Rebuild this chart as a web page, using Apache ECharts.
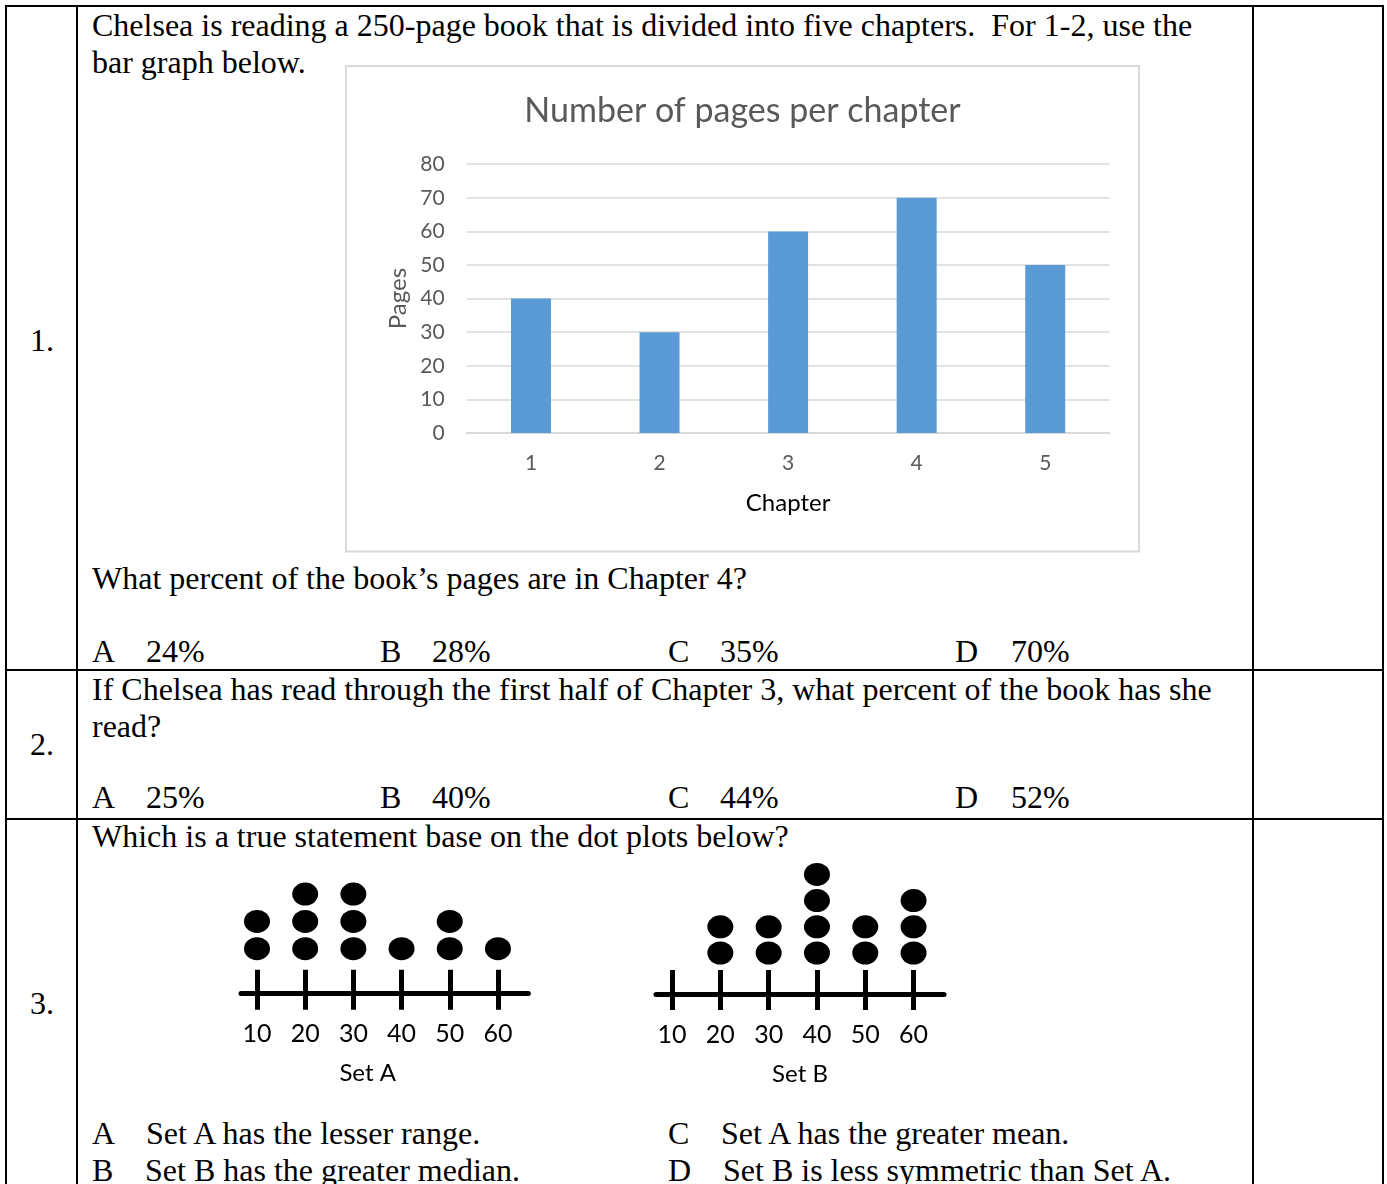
<!DOCTYPE html>
<html>
<head>
<meta charset="utf-8">
<title>Worksheet: pages per chapter and dot plots</title>
<script src="https://cdn.jsdelivr.net/npm/echarts@6/dist/echarts.min.js"></script>
<style>
  html, body { margin: 0; padding: 0; background: #fff; }
  #page { position: relative; width: 1387px; height: 1184px; overflow: hidden; background: #fff; }
  .rule { position: absolute; background: #000; }
  .t {
    position: absolute;
    font-family: 'Liberation Serif', 'Times New Roman', serif;
    font-size: 32px;
    line-height: 37px;
    color: #000;
    white-space: pre;
  }
  #chart { position: absolute; left: 0; top: 0; width: 1387px; height: 1184px; }
</style>
</head>
<body>
<div id="page">
  <!-- table rules -->
  <div class="rule" style="left:5px;top:5px;width:1379px;height:2px"></div>
  <div class="rule" style="left:5px;top:5px;width:2px;height:1179px"></div>
  <div class="rule" style="left:76px;top:5px;width:2px;height:1179px"></div>
  <div class="rule" style="left:1252px;top:5px;width:2px;height:1179px"></div>
  <div class="rule" style="left:1382px;top:5px;width:2px;height:1179px"></div>
  <div class="rule" style="left:5px;top:669px;width:1379px;height:2px"></div>
  <div class="rule" style="left:5px;top:818px;width:1379px;height:2px"></div>

  <!-- question numbers -->
  <div class="t" style="left:30px;top:322px">1.</div>
  <div class="t" style="left:30px;top:726px">2.</div>
  <div class="t" style="left:30px;top:985px">3.</div>

  <!-- question 1 -->
  <div class="t" style="left:92px;top:7px">Chelsea is reading a 250-page book that is divided into five chapters.  For 1-2, use the</div>
  <div class="t" style="left:92px;top:44px">bar graph below.</div>
  <div class="t" style="left:92px;top:560px">What percent of the book’s pages are in Chapter 4?</div>
  <div class="t" style="left:92px;top:633px">A</div><div class="t" style="left:146px;top:633px">24%</div>
  <div class="t" style="left:380px;top:633px">B</div><div class="t" style="left:432px;top:633px">28%</div>
  <div class="t" style="left:668px;top:633px">C</div><div class="t" style="left:720px;top:633px">35%</div>
  <div class="t" style="left:955px;top:633px">D</div><div class="t" style="left:1011px;top:633px">70%</div>

  <!-- question 2 -->
  <div class="t" style="left:92px;top:671px">If Chelsea has read through the first half of Chapter 3, what percent of the book has she</div>
  <div class="t" style="left:92px;top:708px">read?</div>
  <div class="t" style="left:92px;top:779px">A</div><div class="t" style="left:146px;top:779px">25%</div>
  <div class="t" style="left:380px;top:779px">B</div><div class="t" style="left:432px;top:779px">40%</div>
  <div class="t" style="left:668px;top:779px">C</div><div class="t" style="left:720px;top:779px">44%</div>
  <div class="t" style="left:955px;top:779px">D</div><div class="t" style="left:1011px;top:779px">52%</div>

  <!-- question 3 -->
  <div class="t" style="left:92px;top:818px">Which is a true statement base on the dot plots below?</div>
  <div class="t" style="left:92px;top:1115px">A</div><div class="t" style="left:146px;top:1115px">Set A has the lesser range.</div>
  <div class="t" style="left:668px;top:1115px">C</div><div class="t" style="left:721px;top:1115px">Set A has the greater mean.</div>
  <div class="t" style="left:92px;top:1152px">B</div><div class="t" style="left:145px;top:1152px">Set B has the greater median.</div>
  <div class="t" style="left:668px;top:1152px">D</div><div class="t" style="left:723px;top:1152px">Set B is less symmetric than Set A.</div>

  <div id="chart"></div>
</div>

<script>
// Bar chart data: pages in each chapter
const chapters = ['1', '2', '3', '4', '5'];
const pagesPerChapter = [40, 30, 60, 70, 50];

// Dot plot data: every observation of each set
const dotTicks = [10, 20, 30, 40, 50, 60];
const setA = [10, 10, 20, 20, 20, 30, 30, 30, 40, 50, 50, 60];
const setB = [20, 20, 30, 30, 40, 40, 40, 40, 50, 50, 60, 60, 60];

// Turn raw observations into [value, stackLevel] points
function stackDots(values) {
  const seen = {};
  return values.map(function (v) {
    seen[v] = (seen[v] || 0) + 1;
    return [v, seen[v]];
  });
}

const GRAY = '#595959';
const SANS = 'Lato';

// Number line for one dot plot: outer axis carries line, lower ticks and labels,
// inner axis carries the upper half of each tick.
function numberLineAxes(gridIndex, name, namePadding) {
  const common = {
    type: 'value', gridIndex: gridIndex, position: 'bottom',
    min: 6.68, max: 66.3, splitLine: { show: false }
  };
  return [
    Object.assign({}, common, {
      axisLine: { show: true, onZero: false, lineStyle: { color: '#000', width: 5 } },
      axisTick: { show: true, customValues: dotTicks, length: 16, lineStyle: { color: '#000', width: 5 } },
      axisLabel: { show: true, customValues: dotTicks, margin: 28, color: '#000', fontFamily: SANS, fontSize: 25 },
      name: name, nameLocation: 'middle', nameGap: 68,
      nameTextStyle: { color: '#000', fontFamily: SANS, fontSize: 24, padding: namePadding }
    }),
    Object.assign({}, common, {
      axisLine: { show: false, onZero: false },
      axisTick: { show: true, inside: true, customValues: dotTicks, length: 24, lineStyle: { color: '#000', width: 5 } },
      axisLabel: { show: false }
    })
  ];
}

const chart = echarts.init(document.getElementById('chart'), null, { renderer: 'canvas' });

const axesA = numberLineAxes(1, 'Set A', [0, 34, 0, 0]);
const axesB = numberLineAxes(2, 'Set B', [0, 0, 0, 0]);

const dotStyle = { color: '#000', opacity: 1 };

chart.setOption({
  animation: false,
  backgroundColor: 'transparent',
  title: {
    text: 'Number of pages per chapter',
    left: 742.5, top: 94, padding: 0, textAlign: 'center',
    textStyle: { color: GRAY, fontFamily: SANS, fontSize: 34, fontWeight: 'normal' }
  },
  graphic: [{
    type: 'rect', silent: true,
    shape: { x: 346, y: 66, width: 793, height: 485.5 },
    style: { fill: 'transparent', stroke: '#d9d9d9', lineWidth: 2 }
  }],
  grid: [
    { left: 466.7, top: 164.2, width: 642.8, height: 268.8, outerBoundsMode: 'none' },
    { left: 241, top: 866.8, width: 287.3, height: 126.9, outerBoundsMode: 'none' },
    { left: 656, top: 861.3, width: 288, height: 132.7, outerBoundsMode: 'none' }
  ],
  xAxis: [
    {
      type: 'category', gridIndex: 0, data: chapters,
      axisLine: { lineStyle: { color: '#d9d9d9', width: 2 } },
      axisTick: { show: false },
      axisLabel: { color: GRAY, fontFamily: SANS, fontSize: 21, margin: 20 },
      name: 'Chapter', nameLocation: 'middle', nameGap: 58,
      nameTextStyle: { color: '#000', fontFamily: SANS, fontSize: 24 }
    },
    axesA[0], axesA[1], axesB[0], axesB[1]
  ],
  yAxis: [
    {
      type: 'value', gridIndex: 0, min: 0, max: 80, interval: 10,
      axisLine: { show: false }, axisTick: { show: false },
      axisLabel: { color: GRAY, fontFamily: SANS, fontSize: 21, margin: 22 },
      splitLine: { lineStyle: { color: '#d9d9d9', width: 1.5 } },
      name: 'Pages', nameLocation: 'middle', nameGap: 56,
      nameTextStyle: { color: GRAY, fontFamily: SANS, fontSize: 24 }
    },
    { type: 'value', gridIndex: 1, min: -0.65, max: 4, show: false },
    { type: 'value', gridIndex: 2, min: -0.565, max: 4.5, show: false }
  ],
  series: [
    {
      type: 'bar', xAxisIndex: 0, yAxisIndex: 0,
      data: pagesPerChapter, barWidth: 40,
      itemStyle: { color: '#5b9bd5' }, silent: true
    },
    {
      type: 'scatter', xAxisIndex: 1, yAxisIndex: 1,
      data: stackDots(setA), symbol: 'circle', symbolSize: [26, 23],
      itemStyle: dotStyle, silent: true
    },
    {
      type: 'scatter', xAxisIndex: 3, yAxisIndex: 2,
      data: stackDots(setB), symbol: 'circle', symbolSize: [26, 23],
      itemStyle: dotStyle, silent: true
    }
  ]
});
</script>
</body>
</html>
